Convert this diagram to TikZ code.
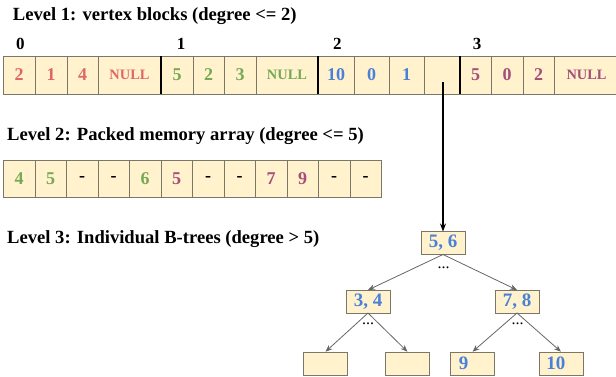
\documentclass[tikz,border=0pt]{standalone}
\usepackage{fontspec}
\setmainfont{Liberation Serif}
\usetikzlibrary{positioning,arrows.meta}

\definecolor{cellfill}{HTML}{FFF2CC}
\definecolor{celledge}{HTML}{7A7668}
\definecolor{vred}{HTML}{E06666}
\definecolor{vgreen}{HTML}{76A856}
\definecolor{vblue}{HTML}{4A80D8}
\definecolor{vpurple}{HTML}{A64D79}
\definecolor{treeedge}{HTML}{666666}

\tikzset{
	title/.style={anchor=base west,inner sep=0,font=\fontsize{18.6}{22}\selectfont\bfseries},
	index/.style={anchor=base west,inner sep=0,font=\fontsize{17}{20}\selectfont\bfseries},
	cell/.style={draw=celledge,fill=cellfill,inner sep=0,outer sep=0,minimum height=38pt,font=\fontsize{18}{20}\selectfont\bfseries},
	nullcell/.style={cell,font=\fontsize{14.4}{16}\selectfont\bfseries},
	pmacell/.style={cell,minimum height=37pt,minimum width=31.5pt},
	blockedge/.style={line width=1.8pt,black},
	treenode/.style={draw=celledge,fill=cellfill,inner sep=0,outer sep=0,minimum width=44pt,minimum height=23pt,text=vblue,font=\fontsize{19}{21}\selectfont\bfseries},
	leaf/.style={treenode,minimum height=23.5pt,text width=27pt,inner xsep=7pt,align=left},
	dots/.style={anchor=base,inner sep=0,font=\fontsize{16}{18}\selectfont},
	treearrow/.style={treeedge,line width=0.8pt,-{Stealth[length=7pt,width=5.5pt]}},
	ptrarrow/.style={black,line width=1.2pt,-{Stealth[length=8pt,width=6pt]}}
}

\begin{document}
\begin{tikzpicture}[x=1pt,y=-1pt]
	\useasboundingbox (0,0) rectangle (616,377);

	% titles
	\node[title] (level1) at (12.7,20.7) {Level 1: vertex blocks (degree <= 2)};
	\node[title] (level2) at (7,140.7) {Level 2: Packed memory array (degree <= 5)};
	\node[title] (level3) at (7,243) {Level 3: Individual B-trees (degree > 5)};

	% level 1: vertex blocks
	\node[cell,anchor=west,minimum width=32pt,text=vred] (v00) at (3,75) {2};
	\node[cell,right=0pt of v00,minimum width=32pt,text=vred] (v01) {1};
	\node[cell,right=0pt of v01,minimum width=31pt,text=vred] (v02) {4};
	\node[nullcell,right=0pt of v02,minimum width=63pt,text=vred] (v03) {NULL};
	\node[cell,right=0pt of v03,minimum width=32pt,text=vgreen] (v10) {5};
	\node[cell,right=0pt of v10,minimum width=31pt,text=vgreen] (v11) {2};
	\node[cell,right=0pt of v11,minimum width=32pt,text=vgreen] (v12) {3};
	\node[nullcell,right=0pt of v12,minimum width=62pt,text=vgreen] (v13) {NULL};
	\node[cell,right=0pt of v13,minimum width=36pt,text=vblue] (v20) {10};
	\node[cell,right=0pt of v20,minimum width=35pt,text=vblue] (v21) {0};
	\node[cell,right=0pt of v21,minimum width=35pt,text=vblue] (v22) {1};
	\node[cell,right=0pt of v22,minimum width=36pt] (v23) {};
	\node[cell,right=0pt of v23,minimum width=31pt,text=vpurple] (v30) {5};
	\node[cell,right=0pt of v30,minimum width=32pt,text=vpurple] (v31) {0};
	\node[cell,right=0pt of v31,minimum width=31pt,text=vpurple] (v32) {2};
	\node[nullcell,right=0pt of v32,minimum width=65pt,text=vpurple] (v33) {NULL};
	\draw[blockedge] (v03.north east) -- (v03.south east);
	\draw[blockedge] (v13.north east) -- (v13.south east);
	\draw[blockedge] (v23.north east) -- (v23.south east);

	\node[index] (i0) at (16,50) {0};
	\node[index] (i1) at (176.7,50) {1};
	\node[index] (i2) at (333,50) {2};
	\node[index] (i3) at (472.7,50) {3};

	% level 2: packed memory array
	\node[pmacell,anchor=west,text=vgreen] (p0) at (3.3,178.5) {4};
	\node[pmacell,right=0pt of p0,text=vgreen] (p1) {5};
	\node[pmacell,right=0pt of p1] (p2) {-};
	\node[pmacell,right=0pt of p2] (p3) {-};
	\node[pmacell,right=0pt of p3,text=vgreen] (p4) {6};
	\node[pmacell,right=0pt of p4,text=vpurple] (p5) {5};
	\node[pmacell,right=0pt of p5] (p6) {-};
	\node[pmacell,right=0pt of p6] (p7) {-};
	\node[pmacell,right=0pt of p7,text=vpurple] (p8) {7};
	\node[pmacell,right=0pt of p8,text=vpurple] (p9) {9};
	\node[pmacell,right=0pt of p9] (p10) {-};
	\node[pmacell,right=0pt of p10] (p11) {-};

	% level 3: B-tree
	\node[treenode] (t56) at (443,243) {5, 6};
	\node[treenode] (t34) at (368,301.5) {3, 4};
	\node[treenode] (t78) at (517,301.5) {7, 8};
	\node[leaf,text width=27.5pt] (l1) at (325.5,363.5) {};
	\node[leaf,text width=27.5pt] (l2) at (407.5,363.5) {};
	\node[leaf,text width=27.5pt] (l3) at (472.5,363.5) {9};
	\node[leaf,text width=29.5pt] (l4) at (561,363.5) {10};
	\node[dots] (d56) at (443.5,268) {...};
	\node[dots] (d34) at (368,324) {...};
	\node[dots] (d78) at (517.5,324) {...};

	\coordinate (ptr) at ([xshift=1pt,yshift=-7pt]v23.center);
	\draw[ptrarrow] (ptr) -- (t56.north);
	\draw[treearrow] (t56.south) -- (t34.north);
	\draw[treearrow] (t56.south) -- (t78.north);
	\draw[treearrow] (t34.south) -- (l1.north);
	\draw[treearrow] (t34.south) -- (l2.north);
	\draw[treearrow] (t78.south) -- (l3.north);
	\draw[treearrow] (t78.south) -- (l4.north);
\end{tikzpicture}
\end{document}
